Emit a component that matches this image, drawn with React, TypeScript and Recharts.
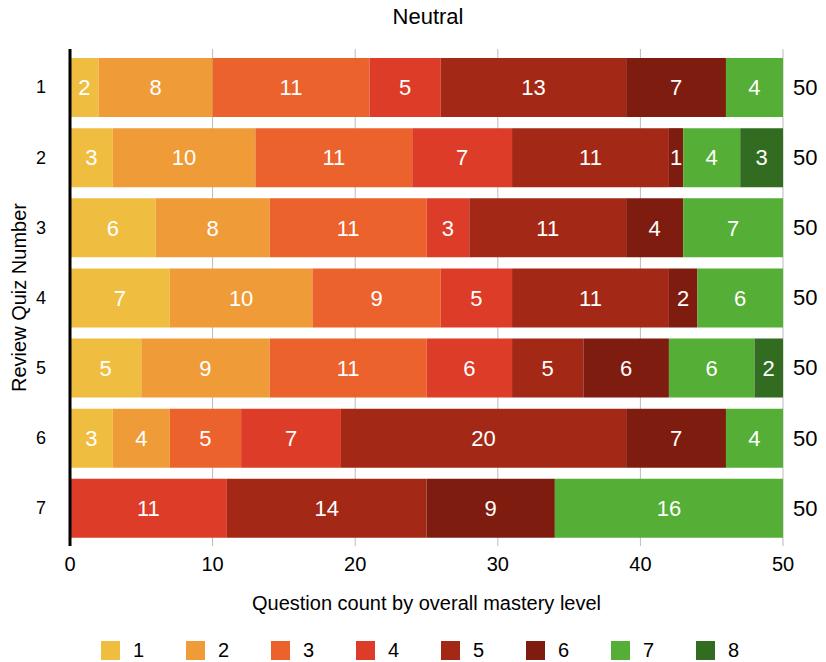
import { BarChart, Bar, XAxis, YAxis, CartesianGrid, Legend, LabelList } from 'recharts';

// quiz numbers on the y axis
const quizzes = ['1', '2', '3', '4', '5', '6', '7'];

// question counts per mastery level, one value per quiz
const level1 = [2, 3, 6, 7, 5, 3, 0];
const level2 = [8, 10, 8, 10, 9, 4, 0];
const level3 = [11, 11, 11, 9, 11, 5, 0];
const level4 = [5, 7, 3, 5, 6, 7, 11];
const level5 = [13, 11, 11, 11, 5, 20, 14];
const level6 = [7, 1, 4, 2, 6, 7, 9];
const level7 = [4, 4, 7, 6, 6, 4, 16];
const level8 = [0, 3, 0, 0, 2, 0, 0];

const xTicks = [0, 10, 20, 30, 40, 50];

const levels = [
  { key: '1', values: level1, color: '#EFBE41' },
  { key: '2', values: level2, color: '#EF9B38' },
  { key: '3', values: level3, color: '#EC622D' },
  { key: '4', values: level4, color: '#DC3C28' },
  { key: '5', values: level5, color: '#A32916' },
  { key: '6', values: level6, color: '#7E1C10' },
  { key: '7', values: level7, color: '#55AE35' },
  { key: '8', values: level8, color: '#316C20' },
];

const data = quizzes.map((q, i) => {
  const row: Record<string, any> = { quiz: q };
  levels.forEach((l) => {
    row['l' + l.key] = l.values[i];
  });
  return row;
});

const totals = quizzes.map((_, i) => levels.reduce((s, l) => s + l.values[i], 0));

const font = '"Liberation Sans", Arial, Helvetica, sans-serif';

const renderLegend = () => (
  <div style={{ display: 'flex', height: 24, alignItems: 'center', paddingLeft: 93, fontFamily: font }}>
    {levels.map((l) => (
      <div key={l.key} style={{ display: 'flex', alignItems: 'center', width: 85 }}>
        <div style={{ width: 19, height: 19, background: l.color, marginRight: 13 }} />
        <span style={{ fontSize: 20, color: '#000' }}>{l.key}</span>
      </div>
    ))}
  </div>
);

export default function App() {
  return (
    <div style={{ position: 'relative', width: 810, height: 654, fontFamily: font }}>
      <div
        style={{
          position: 'absolute',
          top: -2,
          left: 0,
          width: 840,
          height: 22,
          lineHeight: '22px',
          fontSize: 22,
          textAlign: 'center',
          color: '#000',
        }}
      >
        Neutral
      </div>
      <BarChart
        width={810}
        height={654}
        data={data}
        layout="vertical"
        margin={{ top: 41, right: 0, bottom: 0, left: 0 }}
        style={{ fontFamily: font }}
      >
        <CartesianGrid horizontal={false} stroke="#bbbbbb" />
        <XAxis
          type="number"
          domain={[0, 50]}
          ticks={xTicks}
          height={92}
          axisLine={false}
          tickLine={false}
          tickSize={0}
          tickMargin={11}
          tick={{ fill: '#000', fontSize: 20 }}
          label={{
            value: 'Question count by overall mastery level',
            position: 'insideTop',
            offset: 50,
            fill: '#000',
            fontSize: 20,
          }}
        />
        <YAxis
          yAxisId="left"
          type="category"
          dataKey="quiz"
          width={62}
          padding={{ top: 3, bottom: 3 }}
          axisLine={{ stroke: '#000', strokeWidth: 3 }}
          tickLine={false}
          tickSize={0}
          tickMargin={24}
          tick={{ fill: '#000', fontSize: 18 }}
          label={{
            value: 'Review Quiz Number',
            angle: -90,
            position: 'insideLeft',
            offset: 11,
            fill: '#000',
            fontSize: 20,
            style: { textAnchor: 'middle' },
          }}
        />
        <YAxis
          yAxisId="right"
          orientation="right"
          type="category"
          dataKey="quiz"
          width={35}
          padding={{ top: 3, bottom: 3 }}
          axisLine={false}
          tickLine={false}
          tickSize={0}
          tickMargin={10}
          tick={{ fill: '#000', fontSize: 22 }}
          tickFormatter={(_v: any, i: number) => String(totals[i])}
        />
        <Legend verticalAlign="bottom" content={renderLegend} />
        {levels.map((l) => (
          <Bar
            key={l.key}
            yAxisId="left"
            dataKey={'l' + l.key}
            name={l.key}
            stackId="a"
            fill={l.color}
            barSize={59}
            isAnimationActive={false}
          >
            <LabelList
              dataKey={'l' + l.key}
              position="center"
              fill="#fff"
              fontSize={22}
              formatter={(v: any) => (v ? v : '')}
            />
          </Bar>
        ))}
      </BarChart>
    </div>
  );
}
